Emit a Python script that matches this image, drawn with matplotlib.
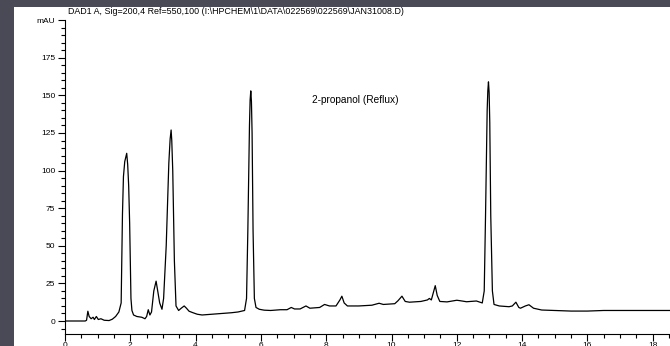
import matplotlib
matplotlib.use("Agg")
import matplotlib.pyplot as plt
from matplotlib.patches import Rectangle
from matplotlib.ticker import MultipleLocator

# Chromatogram trace (time in min, absorbance in mAU)
time_min = [
    0.00, 0.62, 0.66, 0.70, 0.74, 0.80, 0.86, 0.90, 0.96, 1.02,
    1.10, 1.20, 1.35, 1.45, 1.55, 1.65, 1.72, 1.76, 1.79, 1.83,
    1.89, 1.92, 1.95, 1.98, 2.02, 2.05, 2.10, 2.20, 2.35, 2.45,
    2.50, 2.55, 2.60, 2.65, 2.72, 2.79, 2.84, 2.90, 2.97, 3.02,
    3.10, 3.18, 3.22, 3.25, 3.27, 3.30, 3.35, 3.40, 3.48, 3.56,
    3.65, 3.72, 3.80, 3.92, 4.05, 4.20, 4.50, 4.80, 5.10, 5.30,
    5.50, 5.56, 5.60, 5.65, 5.67, 5.69, 5.71, 5.73, 5.76, 5.80,
    5.85, 5.95, 6.10, 6.30, 6.60, 6.80, 6.93, 7.03, 7.20, 7.38,
    7.50, 7.80, 7.95, 8.10, 8.30, 8.42, 8.48, 8.55, 8.65, 9.00,
    9.40, 9.62, 9.75, 10.10, 10.20, 10.32, 10.42, 10.55, 10.90, 11.10,
    11.16, 11.22, 11.27, 11.34, 11.40, 11.48, 11.70, 12.00, 12.10, 12.30,
    12.60, 12.78, 12.84, 12.88, 12.93, 12.95, 12.97, 12.99, 13.01, 13.04,
    13.09, 13.14, 13.30, 13.60, 13.70, 13.81, 13.90, 13.95, 14.10, 14.21,
    14.35, 14.60, 15.00, 15.50, 16.00, 16.50, 20.00,
]
signal_mau = [
    0.0, 0.0, 0.5, 6.5, 3.0, 1.5, 2.5, 1.0, 3.0, 1.0,
    1.5, 0.5, 0.3, 1.2, 3.0, 6.0, 12.0, 71.0, 96.0, 106.0,
    111.5, 104.0, 90.0, 65.0, 15.0, 7.0, 4.0, 3.0, 2.5, 1.5,
    3.0, 7.5, 4.0, 6.0, 20.0, 26.5, 20.0, 12.0, 7.8, 15.0,
    50.0, 105.0, 121.0, 127.0, 120.0, 100.0, 40.0, 10.0, 7.0, 8.5,
    10.0, 8.5, 6.5, 5.5, 4.5, 4.0, 4.5, 5.0, 5.5, 6.0,
    7.0, 15.0, 60.0, 130.0, 147.0, 153.0, 146.0, 125.0, 60.0, 15.0,
    9.0, 7.8, 7.2, 7.0, 7.5, 7.5, 9.0, 8.0, 8.0, 10.0,
    8.5, 9.0, 11.0, 10.0, 10.0, 14.0, 16.5, 12.0, 10.0, 10.0,
    10.5, 11.8, 11.0, 11.5, 13.5, 16.5, 13.0, 12.5, 13.0, 14.0,
    15.0, 14.0, 18.0, 23.5, 17.0, 13.0, 12.7, 13.8, 13.5, 12.8,
    13.3, 12.0, 20.0, 70.0, 140.0, 153.0, 159.0, 152.0, 132.0, 70.0,
    20.0, 11.0, 10.0, 9.5, 10.0, 12.5, 9.0, 8.5, 10.0, 10.8,
    8.5, 7.3, 7.0, 6.6, 6.6, 7.0, 7.0,
]

y_ticks = [0, 25, 50, 75, 100, 125, 150, 175, 200]
y_labels = ["0", "25", "50", "75", "100", "125", "150", "175", "mAU"]
x_ticks = [0, 2, 4, 6, 8, 10, 12, 14, 16, 18, 20]

header = "DAD1 A, Sig=200,4 Ref=550,100 (I:\\HPCHEM\\1\\DATA\\022569\\022569\\JAN31008.D)"
sample_label = "2-propanol (Reflux)"

plt.rcParams["font.family"] = ["Liberation Sans", "DejaVu Sans"]

W, H = 670, 346
fig = plt.figure(figsize=(W / 100, H / 100), dpi=100, facecolor="#4a4a57")

# white sheet of the printout on the dark slide (behind the axes)
fig.patches.append(Rectangle((14 / W, 0), 1, (H - 7) / H, transform=fig.transFigure,
                             facecolor="white", edgecolor="none", zorder=-5))

# axes placed so that the pixel scale matches the reference (x runs past the right edge)
x0, x_px_per_min = 65, 32.65
y_zero, y_px_per_unit = 321, 1.504
ymin, ymax, xmax = -8.6, 200, 20
bottom_px = y_zero + (-ymin) * y_px_per_unit
top_px = y_zero - ymax * y_px_per_unit
ax = fig.add_axes([x0 / W, (H - bottom_px) / H, xmax * x_px_per_min / W,
                   (bottom_px - top_px) / H])
ax.patch.set_visible(False)

ax.plot(time_min, signal_mau, color="black", linewidth=0.9)

ax.set_xlim(0, xmax)
ax.set_ylim(ymin, ymax)
for side in ["top", "right"]:
    ax.spines[side].set_visible(False)
for side in ["left", "bottom"]:
    ax.spines[side].set_linewidth(0.8)

ax.set_yticks(y_ticks)
ax.set_yticklabels(y_labels)
ax.yaxis.set_minor_locator(MultipleLocator(5))
ax.set_xticks(x_ticks)
ax.xaxis.set_minor_locator(MultipleLocator(0.5))
ax.tick_params(which="major", length=5, width=0.8, labelsize=6, pad=2, direction="out")
ax.tick_params(which="minor", length=3, width=0.8, direction="out")
ax.tick_params(axis="x", pad=1)

fig.text(68 / W, 1 - 12 / H, header, fontsize=6.4, ha="left", va="center")
fig.text(355 / W, 1 - 100 / H, sample_label, fontsize=7.3, ha="center", va="center")

fig.savefig("out.png", dpi=100, facecolor=fig.get_facecolor())
